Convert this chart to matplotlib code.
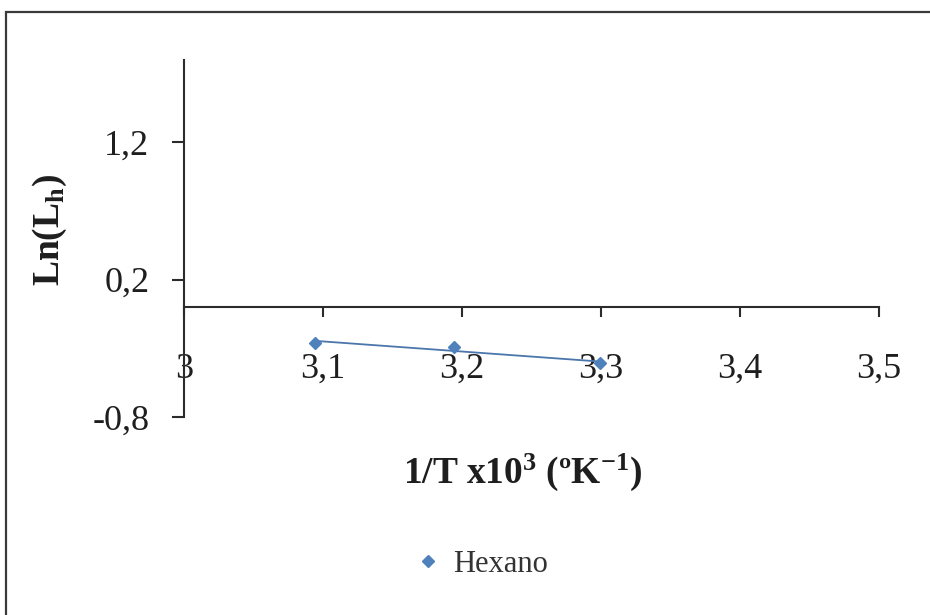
import numpy as np
import matplotlib
matplotlib.use("Agg")
import matplotlib.pyplot as plt
from matplotlib.patches import Rectangle

# Data: 1/T x10^3 versus ln(L_h) for hexane
inv_temp = [3.094, 3.194, 3.299]
ln_lh = [-0.26, -0.29, -0.41]
series_name = "Hexano"

x_ticks = [3.0, 3.1, 3.2, 3.3, 3.4, 3.5]
x_tick_labels = ["3", "3,1", "3,2", "3,3", "3,4", "3,5"]
y_ticks = [-0.8, 0.2, 1.2]
y_tick_labels = ["-0,8", "0,2", "1,2"]

plt.rcParams["font.family"] = ["Liberation Serif", "DejaVu Serif"]
plt.rcParams["mathtext.fontset"] = "custom"
plt.rcParams["mathtext.rm"] = "Liberation Serif"
plt.rcParams["mathtext.bf"] = "Liberation Serif:bold"
plt.rcParams["mathtext.it"] = "Liberation Serif:italic"

W, H = 930, 615
fig = plt.figure(figsize=(W / 100, H / 100), dpi=100)
fig.patch.set_facecolor("white")

# plot area in pixel terms
left, right, top, bottom = 184, 879, 60, 417
ax = fig.add_axes([left / W, 1 - bottom / H, (right - left) / W, (bottom - top) / H])
ax.set_xlim(3.0, 3.5)
ax.set_ylim(-0.8, 1.8)

blue = "#4F81BD"
ax.plot(inv_temp, ln_lh, linestyle="none", marker="D", markersize=6.5,
        color=blue, label=series_name, zorder=4)

# linear trend line over the data range
coef = np.polyfit(inv_temp, ln_lh, 1)
xs = np.array([min(inv_temp), max(inv_temp)])
ax.plot(xs, np.polyval(coef, xs), color="#4A76AC", linewidth=1.3, zorder=3)

axis_color = "#2b2b2b"
for s in ("top", "right"):
    ax.spines[s].set_visible(False)
ax.spines["bottom"].set_position(("data", 0))
ax.spines["left"].set_color(axis_color)
ax.spines["bottom"].set_color(axis_color)
ax.spines["left"].set_linewidth(1.5)
ax.spines["bottom"].set_linewidth(1.5)

ax.set_xticks(x_ticks)
ax.set_xticklabels(x_tick_labels)
ax.set_yticks(y_ticks)
ax.set_yticklabels(y_tick_labels)
ax.tick_params(axis="x", direction="out", length=7, width=1.5, color=axis_color,
               labelsize=26, pad=26, labelcolor="#1e1e1e")
ax.tick_params(axis="y", direction="out", length=9, width=1.5, color=axis_color,
               labelsize=26, pad=16, labelcolor="#1e1e1e")
ax.set_facecolor("none")

# axis titles
fig.text(523 / W, 1 - 472 / H, r"$\mathbf{1/T\ x10^{3}\ (ºK^{-1})}$",
         ha="center", va="center", fontsize=27, color="#1e1e1e")
fig.text(50 / W, 1 - 230 / H, r"$\mathbf{Ln(L_{h})}$", rotation=90,
         ha="center", va="center", fontsize=27, color="#1e1e1e")

# legend
fig.legend(loc="center", bbox_to_anchor=(482 / W, 1 - 564 / H), frameon=False,
           fontsize=22, handlelength=0.8, handletextpad=0.4, borderaxespad=0,
           labelcolor="#333333")

# chart border
fig.patches.append(Rectangle((6 / W, -0.1), 1.2, (H - 12) / H + 0.1,
                             transform=fig.transFigure, fill=False,
                             edgecolor="#3a3a3a", linewidth=1.6))

fig.savefig("out.png", dpi=100, facecolor="white")
